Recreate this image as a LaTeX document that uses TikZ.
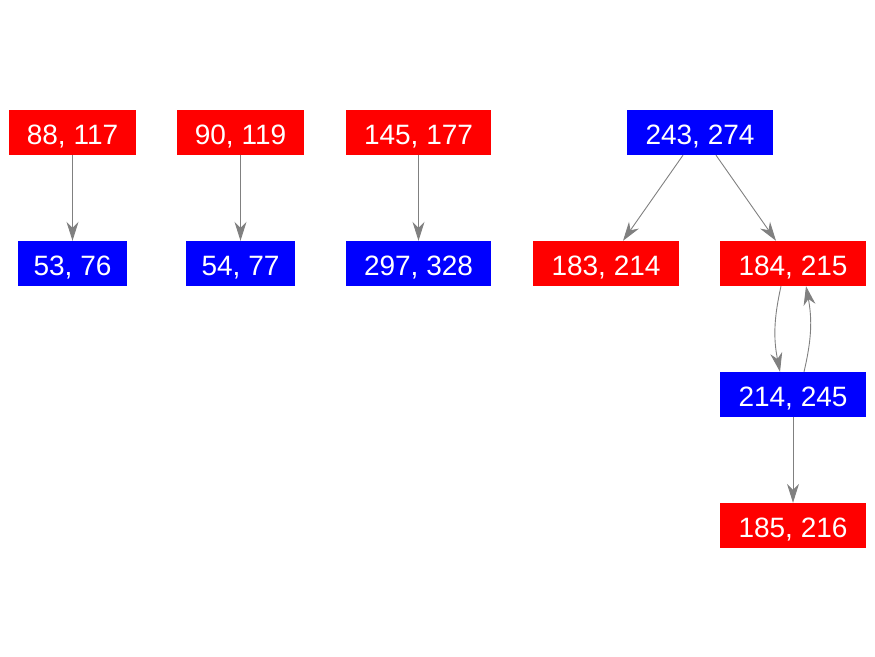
\documentclass[tikz,border=0pt]{standalone}
\usepackage{fontspec}
\setmainfont{Liberation Sans}
\usetikzlibrary{arrows.meta}
\definecolor{nred}{RGB}{255,0,0}
\definecolor{nblue}{RGB}{0,0,255}
\definecolor{egray}{RGB}{128,128,128}
\begin{document}
\begin{tikzpicture}[x=1pt,y=-1pt,
  box/.style={inner sep=0pt,minimum height=45pt,text height=23pt,text depth=0pt,text=white,font=\fontsize{28}{30}\selectfont},
  rbox/.style={box,fill=nred},
  bbox/.style={box,fill=nblue},
  edge/.style={draw=egray,line width=0.9pt,-{Stealth[length=19pt,width=12pt,inset=6pt]}}]
\useasboundingbox (0,0) rectangle (875,656);
\node[rbox,minimum width=127pt] (a1) at (72.5,132.5) {88, 117};
\node[bbox,minimum width=109pt] (a2) at (72.5,263.5) {53, 76};
\node[rbox,minimum width=127pt] (b1) at (240.5,132.5) {90, 119};
\node[bbox,minimum width=109pt] (b2) at (240.5,263.5) {54, 77};
\node[rbox,minimum width=145pt] (c1) at (418.5,132.5) {145, 177};
\node[bbox,minimum width=145pt] (c2) at (418.5,263.5) {297, 328};
\node[bbox,minimum width=146pt] (d1) at (700,132.5) {243, 274};
\node[rbox,minimum width=146pt] (d2) at (606,263.5) {183, 214};
\node[rbox,minimum width=146pt] (d3) at (793,263.5) {184, 215};
\node[bbox,minimum width=146pt] (d4) at (793,394.5) {214, 245};
\node[rbox,minimum width=146pt] (d5) at (793,525.5) {185, 216};
\draw[edge] (a1) -- (a2);
\draw[edge] (b1) -- (b2);
\draw[edge] (c1) -- (c2);
\draw[edge] (d1.south -| 683,0) -- (d2.north -| 623,0);
\draw[edge] (d1.south -| 716,0) -- (d3.north -| 776,0);
\draw[edge] (d3.south -| 781,0) to[bend right=12] (d4.north -| 780,0);
\draw[edge] (d4.north -| 804,0) to[bend right=12] (d3.south -| 806,0);
\draw[edge] (d4) -- (d5);
\end{tikzpicture}
\end{document}
